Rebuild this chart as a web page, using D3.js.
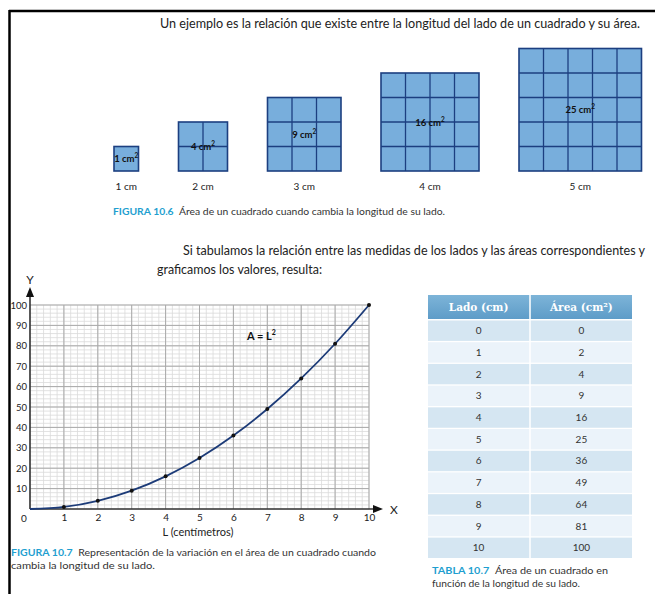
<!DOCTYPE html>
<html>
<head>
<meta charset="utf-8">
<script src="https://cdn.jsdelivr.net/npm/d3@7"></script>
<style>
  body { margin: 0; background: #fff; }
  svg { display: block; font-family: Lato, "Open Sans", sans-serif; }
</style>
</head>
<body>
<svg id="page"></svg>
<script>
// squares (figura 10.6)
const sides = [1, 2, 3, 4, 5];
const squareAreas = [1, 4, 9, 16, 25];
const sideLabels = ["1 cm", "2 cm", "3 cm", "4 cm", "5 cm"];

// graph (figura 10.7)
const lados = [0, 1, 2, 3, 4, 5, 6, 7, 8, 9, 10];
const plotAreas = [0, 1, 4, 9, 16, 25, 36, 49, 64, 81, 100];
const xTicks = [1, 2, 3, 4, 5, 6, 7, 8, 9, 10];
const yTicks = [10, 20, 30, 40, 50, 60, 70, 80, 90, 100];

// table (tabla 10.7)
const tableHeaders = ["Lado (cm)", "Área (cm²)"];
const tableLados = [0, 1, 2, 3, 4, 5, 6, 7, 8, 9, 10];
const tableAreas = [0, 2, 4, 9, 16, 25, 36, 49, 64, 81, 100];

const width = 655, height = 594;
const teal = "#1f9fd0";
const svg = d3.select("#page").attr("width", width).attr("height", height);

// page frame //
svg.append("line").attr("x1", 9).attr("x2", width).attr("y1", 11).attr("y2", 11)
   .attr("stroke", "#000").attr("stroke-width", 2.5);
svg.append("line").attr("x1", 9.5).attr("x2", 9.5).attr("y1", 10).attr("y2", height)
   .attr("stroke", "#000").attr("stroke-width", 2.5);

svg.append("text").attr("x", 160).attr("y", 28)
   .attr("font-size", 13).attr("fill", "#222")
   .attr("textLength", 480).attr("lengthAdjust", "spacingAndGlyphs")
   .text("Un ejemplo es la relación que existe entre la longitud del lado de un cuadrado y su área.");

// ---- squares ----
const cm = d3.scaleLinear().domain([0, 1]).range([0, 24.5]);
const baseY = 171, gap = 40;
let cursor = 114;
const squares = sides.map((s, i) => {
    const sq = { s, area: squareAreas[i], label: sideLabels[i], x: cursor };
    cursor += cm(s) + gap;
    return sq;
});

const sqG = svg.append("g");
squares.forEach(sq => {
    const g = sqG.append("g").attr("transform", `translate(${sq.x},${baseY - cm(sq.s)})`);
    g.append("rect").attr("width", cm(sq.s)).attr("height", cm(sq.s))
     .attr("fill", "#78aedc").attr("stroke", "#1c3f80").attr("stroke-width", 1.6);
    const cells = d3.range(1, sq.s);
    g.selectAll(".v").data(cells).join("line")
     .attr("x1", d => cm(d)).attr("x2", d => cm(d)).attr("y1", 0).attr("y2", cm(sq.s))
     .attr("stroke", "#1c3f80").attr("stroke-width", 1.3);
    g.selectAll(".h").data(cells).join("line")
     .attr("y1", d => cm(d)).attr("y2", d => cm(d)).attr("x1", 0).attr("x2", cm(sq.s))
     .attr("stroke", "#1c3f80").attr("stroke-width", 1.3);
    const t = g.append("text").attr("x", cm(sq.s) / 2).attr("y", cm(sq.s) / 2 + 3.5)
     .attr("text-anchor", "middle").attr("font-size", 9.5).attr("font-weight", "bold").attr("fill", "#111");
    t.append("tspan").text(sq.area + " cm");
    t.append("tspan").attr("font-size", 6.5).attr("dy", -4).text("2");
    sqG.append("text").attr("x", sq.x + cm(sq.s) / 2).attr("y", 190)
     .attr("text-anchor", "middle").attr("font-size", 10).attr("fill", "#222").text(sq.label);
});

// caption helper: teal bold label + gray text stretched to the width seen in the book
function caption(xPos, yPos, label, text, len) {
    const t = svg.append("text").attr("x", xPos).attr("y", yPos).attr("font-size", 9.5)
       .attr("textLength", len).attr("lengthAdjust", "spacingAndGlyphs");
    t.append("tspan").attr("fill", teal).attr("font-weight", "bold").text(label);
    t.append("tspan").attr("dx", 5).attr("fill", "#333").text(text);
}
function captionLine(xPos, yPos, text, len) {
    svg.append("text").attr("x", xPos).attr("y", yPos).attr("font-size", 9.5).attr("fill", "#333")
       .attr("textLength", len).attr("lengthAdjust", "spacingAndGlyphs").text(text);
}

caption(113, 215, "FIGURA 10.6", "Área de un cuadrado cuando cambia la longitud de su lado.", 332);

svg.append("text").attr("x", 183).attr("y", 255).attr("font-size", 12.5).attr("fill", "#222")
   .attr("textLength", 462).attr("lengthAdjust", "spacingAndGlyphs")
   .text("Si tabulamos la relación entre las medidas de los lados y las áreas correspondientes y");
svg.append("text").attr("x", 157).attr("y", 274).attr("font-size", 13).attr("fill", "#222")
   .attr("textLength", 165).attr("lengthAdjust", "spacingAndGlyphs")
   .text("graficamos los valores, resulta:");

// ---- graph ----
const x = d3.scaleLinear().domain([0, 10]).range([30, 369]);
const y = d3.scaleLinear().domain([0, 100]).range([509, 305]);
const grid = svg.append("g");

grid.selectAll(".mx").data(d3.range(0, 10.01, 0.2)).join("line")
    .attr("x1", d => x(d)).attr("x2", d => x(d)).attr("y1", y(0)).attr("y2", y(100))
    .attr("stroke", "#dadada").attr("stroke-width", 0.8);
grid.selectAll(".my").data(d3.range(0, 100.1, 2)).join("line")
    .attr("y1", d => y(d)).attr("y2", d => y(d)).attr("x1", x(0)).attr("x2", x(10))
    .attr("stroke", "#dadada").attr("stroke-width", 0.8);
grid.selectAll(".Mx").data(xTicks).join("line")
    .attr("x1", d => x(d)).attr("x2", d => x(d)).attr("y1", y(0)).attr("y2", y(100))
    .attr("stroke", "#a9a9a9").attr("stroke-width", 1);
grid.selectAll(".My").data(yTicks).join("line")
    .attr("y1", d => y(d)).attr("y2", d => y(d)).attr("x1", x(0)).attr("x2", x(10))
    .attr("stroke", "#a9a9a9").attr("stroke-width", 1);

// axes
svg.append("line").attr("x1", x(0)).attr("x2", 376).attr("y1", y(0)).attr("y2", y(0))
   .attr("stroke", "#333").attr("stroke-width", 1.6);
svg.append("path").attr("d", `M383,${y(0)} L373,${y(0) - 4} L373,${y(0) + 4} Z`).attr("fill", "#111");
svg.append("line").attr("x1", x(0)).attr("x2", x(0)).attr("y1", y(0)).attr("y2", 294)
   .attr("stroke", "#333").attr("stroke-width", 1.6);
svg.append("path").attr("d", `M${x(0)},287 L${x(0) - 4},297 L${x(0) + 4},297 Z`).attr("fill", "#111");
svg.append("text").attr("x", 390).attr("y", 514).attr("font-size", 12).attr("fill", "#222").text("X");
svg.append("text").attr("x", x(0)).attr("y", 284).attr("text-anchor", "middle")
   .attr("font-size", 12).attr("fill", "#222").text("Y");

const xAxis = d3.axisBottom(x).tickValues(xTicks).tickSize(0).tickPadding(5);
svg.append("g").attr("transform", `translate(0,${y(0)})`).call(xAxis)
   .call(g => g.select(".domain").remove())
   .call(g => g.selectAll("text").attr("font-size", 10).attr("fill", "#222").attr("font-family", "Lato"));
const yAxis = d3.axisLeft(y).tickValues(yTicks).tickSize(0).tickPadding(3);
svg.append("g").attr("transform", `translate(${x(0)},0)`).call(yAxis)
   .call(g => g.select(".domain").remove())
   .call(g => g.selectAll("text").attr("font-size", 9.5).attr("fill", "#222").attr("font-family", "Lato"));
svg.append("text").attr("x", 24).attr("y", 522).attr("text-anchor", "middle")
   .attr("font-size", 10).attr("fill", "#222").text("0");

svg.append("text").attr("x", 198).attr("y", 536).attr("text-anchor", "middle")
   .attr("font-size", 11).attr("fill", "#222").text("L (centímetros)");

const formula = svg.append("text").attr("x", 247).attr("y", 340)
   .attr("font-size", 11).attr("font-weight", "bold").attr("fill", "#111");
formula.append("tspan").text("A = L");
formula.append("tspan").attr("font-size", 7).attr("dy", -5).text("2");

const pts = lados.map((l, i) => ({ l, a: plotAreas[i] }));
svg.append("path").datum(pts)
   .attr("d", d3.line().x(d => x(d.l)).y(d => y(d.a)).curve(d3.curveMonotoneX))
   .attr("fill", "none").attr("stroke", "#1c3b78").attr("stroke-width", 1.8);
svg.selectAll(".pt").data(pts.slice(1)).join("circle")
   .attr("cx", d => x(d.l)).attr("cy", d => y(d.a)).attr("r", 2).attr("fill", "#111");

caption(11, 556, "FIGURA 10.7", "Representación de la variación en el área de un cuadrado cuando", 365);
captionLine(11, 569, "cambia la longitud de su lado.", 144);

// ---- table ----
const col = d3.scaleBand().domain([0, 1]).range([428, 632]).paddingInner(0.015);
const row = d3.scaleBand().domain(d3.range(tableLados.length)).range([320.5, 558]).paddingInner(0.06);
const tbl = svg.append("g");

const hdrGrad = svg.append("defs").append("linearGradient").attr("id", "hdr")
   .attr("x1", 0).attr("x2", 0).attr("y1", 0).attr("y2", 1);
hdrGrad.append("stop").attr("offset", 0).attr("stop-color", "#7db4d8");
hdrGrad.append("stop").attr("offset", 1).attr("stop-color", "#5e9cc8");

tableHeaders.forEach((h, c) => {
    tbl.append("rect").attr("x", col(c)).attr("y", 295).attr("width", col.bandwidth()).attr("height", 24)
       .attr("fill", "url(#hdr)");
    tbl.append("text").attr("x", col(c) + col.bandwidth() / 2).attr("y", 311)
       .attr("text-anchor", "middle").attr("font-size", 10.5).attr("font-weight", "bold")
       .attr("font-family", "'DejaVu Serif', serif").attr("fill", "#fff").text(h);
});

tableLados.forEach((l, r) => {
    [l, tableAreas[r]].forEach((v, c) => {
        tbl.append("rect").attr("x", col(c)).attr("y", row(r))
           .attr("width", col.bandwidth()).attr("height", row.bandwidth())
           .attr("fill", r % 2 === 0 ? "#d5e6f2" : "#ebf3fa");
        tbl.append("text").attr("x", col(c) + col.bandwidth() / 2).attr("y", row(r) + row.bandwidth() / 2 + 3.5)
           .attr("text-anchor", "middle").attr("font-size", 10).attr("fill", "#333").text(v);
    });
});

caption(432, 574, "TABLA 10.7", "Área de un cuadrado en", 176);
captionLine(432, 587, "función de la longitud de su lado.", 148);
</script>
</body>
</html>
